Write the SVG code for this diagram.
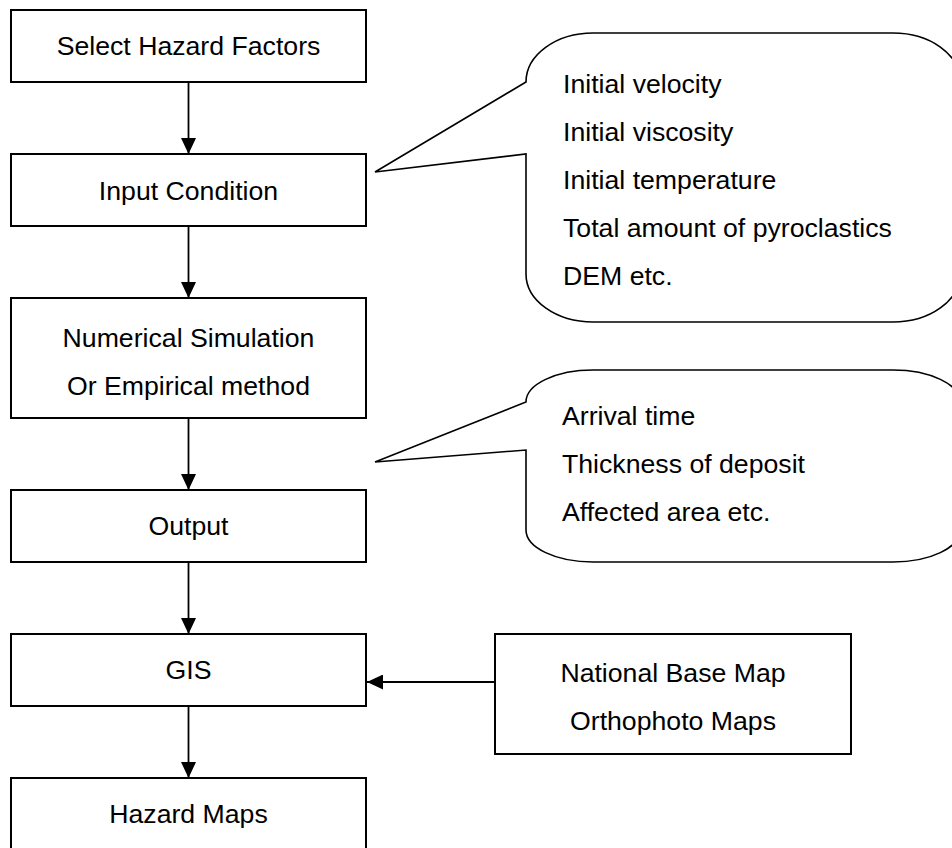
<svg xmlns="http://www.w3.org/2000/svg" width="952" height="848" viewBox="0 0 952 848">
<style>
.box{fill:#fff;stroke:#000;stroke-width:2}
.call{fill:#fff;stroke:#000;stroke-width:1.6;stroke-linejoin:miter}
.t{font-family:"Liberation Sans",Arial,sans-serif;font-size:26.67px;fill:#000}
.c{text-anchor:middle}
.ln{stroke:#000;stroke-width:1.8;fill:none}
</style>
<defs>
<marker id="ah" viewBox="0 0 16 15" refX="16" refY="7.5" markerWidth="16" markerHeight="15" markerUnits="userSpaceOnUse" orient="auto">
<path d="M0,0 L16,7.5 L0,15 Z" fill="#000"/>
</marker>
</defs>
<rect width="952" height="848" fill="#fff"/>
<g id="connectors">
<line class="ln" x1="188.5" y1="82" x2="188.5" y2="154" marker-end="url(#ah)"/>
<line class="ln" x1="188.5" y1="226" x2="188.5" y2="298" marker-end="url(#ah)"/>
<line class="ln" x1="188.5" y1="418" x2="188.5" y2="490" marker-end="url(#ah)"/>
<line class="ln" x1="188.5" y1="562" x2="188.5" y2="634" marker-end="url(#ah)"/>
<line class="ln" x1="188.5" y1="706" x2="188.5" y2="778" marker-end="url(#ah)"/>
<line class="ln" x1="495" y1="682" x2="367" y2="682" marker-end="url(#ah)"/>
</g>
<g id="select">
<rect class="box" x="11" y="10" width="355" height="72"/>
<text class="t c" x="188.5" y="55">Select Hazard Factors</text>
</g>
<g id="input">
<rect class="box" x="11" y="154" width="355" height="72"/>
<text class="t c" x="188.5" y="199.5">Input Condition</text>
</g>
<g id="simulation">
<rect class="box" x="11" y="298" width="355" height="120"/>
<text class="t c" x="188.5" y="347">Numerical Simulation</text>
<text class="t c" x="188.5" y="395">Or Empirical method</text>
</g>
<g id="output">
<rect class="box" x="11" y="490" width="355" height="72"/>
<text class="t c" x="188.5" y="535">Output</text>
</g>
<g id="gis">
<rect class="box" x="11" y="634" width="355" height="72"/>
<text class="t c" x="188.5" y="679">GIS</text>
</g>
<g id="hazard">
<rect class="box" x="11" y="778" width="355" height="72"/>
<text class="t c" x="188.5" y="823">Hazard Maps</text>
</g>
<g id="basemap">
<rect class="box" x="495" y="634" width="356" height="120"/>
<text class="t c" x="673" y="682">National Base Map</text>
<text class="t c" x="673" y="730">Orthophoto Maps</text>
</g>
<g id="callout-input">
<path class="call" d="M526,82 A67,49 0 0 1 593,33 L893,33 A67,48 0 0 1 960,81 L960,274 A67,48 0 0 1 893,322 L593,322 A67,48 0 0 1 526,274 L526,154 L375,172 Z"/>
<text class="t" x="563" y="93">Initial velocity</text>
<text class="t" x="563" y="141">Initial viscosity</text>
<text class="t" x="563" y="189">Initial temperature</text>
<text class="t" x="563" y="237">Total amount of pyroclastics</text>
<text class="t" x="563" y="285">DEM etc.</text>
</g>
<g id="callout-output">
<path class="call" d="M526,402 A67,32 0 0 1 593,370 L893,370 A67,32 0 0 1 960,402 L960,530 A67,32 0 0 1 893,562 L593,562 A67,32 0 0 1 526,530 L526,450 L375,462 Z"/>
<text class="t" x="562" y="425">Arrival time</text>
<text class="t" x="562" y="473">Thickness of deposit</text>
<text class="t" x="562" y="521">Affected area etc.</text>
</g>
</svg>
